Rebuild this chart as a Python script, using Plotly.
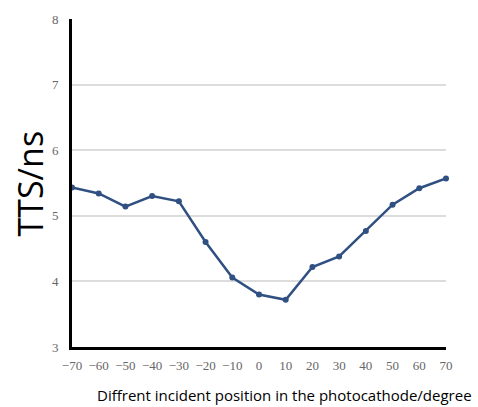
import plotly.graph_objects as go

positions = [-70, -60, -50, -40, -30, -20, -10, 0, 10, 20, 30, 40, 50, 60, 70]
tts = [5.43, 5.34, 5.14, 5.30, 5.22, 4.60, 4.06, 3.80, 3.72, 4.22, 4.38, 4.77, 5.17, 5.42, 5.57]
x_ticks = list(range(-70, 71, 10))
x_tick_labels = [str(v).replace("-", "\u2212") for v in x_ticks]
y_ticks = [3, 4, 5, 6, 7, 8]

W, H = 478, 407
L, R, T, B = 72, 32, 14, 60
pw, ph = W - L - R, H - T - B

fig = go.Figure()
fig.add_trace(go.Scatter(
    x=positions, y=tts, mode="lines+markers",
    line=dict(color="#2F5080", width=2.5),
    marker=dict(color="#2F5080", size=6),
    cliponaxis=False, showlegend=False,
))

fig.update_layout(
    width=W, height=H,
    margin=dict(l=L, r=R, t=T, b=B),
    paper_bgcolor="white", plot_bgcolor="white",
    xaxis=dict(
        range=[-70, 70], tickvals=x_ticks, ticktext=x_tick_labels,
        showgrid=False, zeroline=False,
        showline=True, linecolor="black", linewidth=3,
        ticks="", ticklabelstandoff=4,
        tickfont=dict(family="Liberation Serif", size=13, color="#666666"),
    ),
    yaxis=dict(
        range=[3, 8], tickvals=y_ticks,
        showgrid=True, gridcolor="#DCDCDC", gridwidth=1.5, zeroline=False,
        showline=True, linecolor="black", linewidth=3,
        ticks="", ticklabelstandoff=8, ticklabeloverflow="allow",
        tickfont=dict(family="Liberation Serif", size=13, color="#666666"),
    ),
    annotations=[
        dict(text="TTS/ns", showarrow=False, textangle=-90,
             xref="paper", yref="paper",
             x=(30 - L) / pw, y=(H - B - 181) / ph,
             xanchor="center", yanchor="middle",
             font=dict(family="Open Sans", size=34, color="black")),
        dict(text="Diffrent incident position in the photocathode/degree",
             showarrow=False, xref="paper", yref="paper",
             x=(284 - L) / pw, y=(H - B - 396) / ph,
             xanchor="center", yanchor="middle",
             font=dict(family="Open Sans", size=15, color="black")),
    ],
)

fig.write_html("out.html", config={"displayModeBar": False},
               post_script="document.body.style.margin='0';")
